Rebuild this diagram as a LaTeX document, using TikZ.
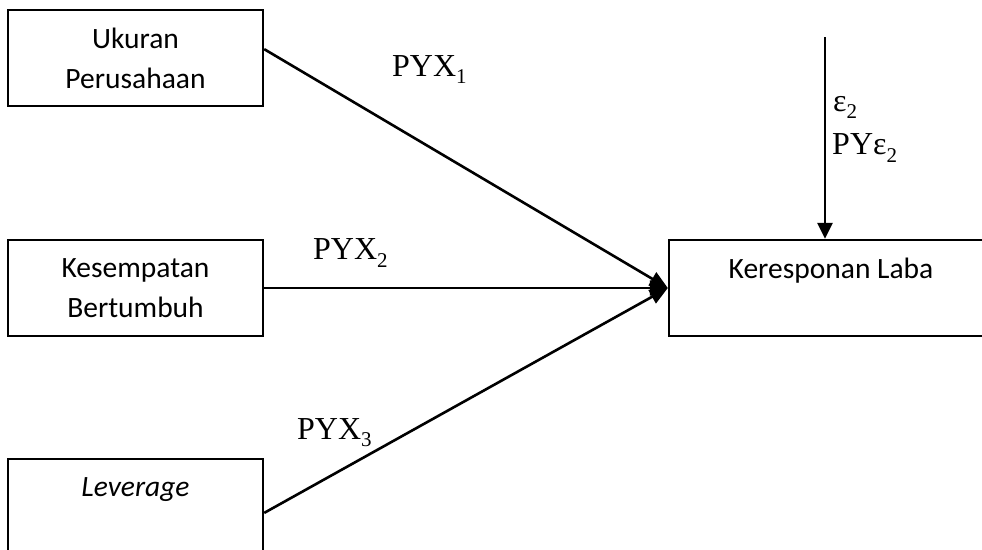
\documentclass[tikz,border=0pt]{standalone}
\usepackage{fontspec}
\setmainfont{Liberation Serif}
\newfontfamily\boxfont{Carlito}
\usetikzlibrary{arrows.meta,calc}
% lowered index in the label font
\newcommand{\lowidx}[1]{\raisebox{-0.22em}{\fontsize{21}{21}\selectfont #1}}
\begin{document}
\begin{tikzpicture}[x=1pt,y=-1pt,
  box/.style={draw,line width=2.4pt,inner sep=0pt,
    font=\boxfont\fontsize{29.5}{40}\selectfont,align=center},
  link/.style={line width=2.6pt,-{Triangle[length=18pt,width=15pt]}},
  lbl/.style={font=\fontsize{32}{36}\selectfont,inner sep=0pt,anchor=west}]
\useasboundingbox (0,0) rectangle (982,549);
\clip (0,0) rectangle (982,549);

% exogenous variables
\node[box,minimum width=255pt,minimum height=96pt] (b1) at (135.5,58)
  {Ukuran\\Perusahaan};
\node[box,minimum width=255pt,minimum height=96pt] (b2) at (135.5,288)
  {Kesempatan\\Bertumbuh};
\node[box,minimum width=255pt,minimum height=96pt] (b3) at (135.5,507)
  {\textit{Leverage}\\\mbox{}};

% endogenous variable
\node[box,minimum width=324pt,minimum height=96pt] (kl) at (831,288)
  {Keresponan Laba\\\mbox{}};

% path coefficients
\draw[link] ($(b1.north east)!0.41!(b1.south east)$) -- (kl.west);
\draw[link] (b2.east) -- (kl.west);
\draw[link] ($(b3.north east)!0.56!(b3.south east)$) -- (kl.west);

% residual
\coordinate (etop) at (825,37);
\draw[link,-{Triangle[length=16pt,width=15pt]}] (etop) -- (etop |- kl.north);

% labels
\node[lbl] (p1) at (392,70) {PYX\lowidx{1}};
\node[lbl] (p2) at (313,253) {PYX\lowidx{2}};
\node[lbl] (p3) at (297,433) {PYX\lowidx{3}};
\node[lbl] (e2) at (833,107) {ε\lowidx{2}};
\node[lbl] (pe) at (832,148) {PYε\lowidx{2}};
\end{tikzpicture}
\end{document}
